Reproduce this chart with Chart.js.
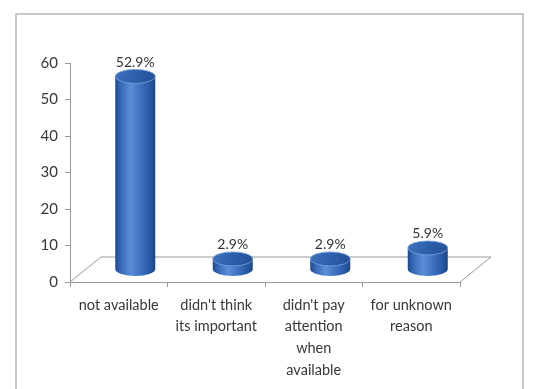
<!DOCTYPE html>
<html>
<head>
<meta charset="utf-8">
<script src="https://cdn.jsdelivr.net/npm/chart.js@4/dist/chart.umd.min.js"></script>
<style>
html,body{margin:0;padding:0;background:#fff;}
#wrap{width:552px;height:389px;position:relative;}
</style>
</head>
<body>
<div id="wrap"><canvas id="c" width="552" height="389"></canvas></div>
<script>
const categories = [
  ["not available"],
  ["didn't think", "its important"],
  ["didn't pay", "attention", "when", "available"],
  ["for unknown", "reason"]
];
const values = [52.9, 2.9, 2.9, 5.9];
const valueLabels = ["52.9%", "2.9%", "2.9%", "5.9%"];
const yTicks = [0, 10, 20, 30, 40, 50, 60];

const FONT = "Lato, 'Open Sans', sans-serif";
const DEPTH_X = 31, DEPTH_Y = -25;

const framePlugin = {
  id: 'frame',
  beforeDraw(chart) {
    const ctx = chart.ctx;
    ctx.save();
    ctx.fillStyle = '#fff';
    ctx.fillRect(0, 0, chart.width, chart.height);
    ctx.strokeStyle = '#c8c8c8';
    ctx.lineWidth = 2;
    ctx.strokeRect(16, 14, 507, 420);
    ctx.restore();
  }
};

const floorPlugin = {
  id: 'floor',
  beforeDatasetsDraw(chart) {
    const ctx = chart.ctx, a = chart.chartArea;
    const y0 = chart.scales.y.getPixelForValue(0);
    ctx.save();
    ctx.strokeStyle = '#9a9a9a';
    ctx.lineWidth = 1;
    ctx.beginPath();
    ctx.moveTo(a.left, y0);
    ctx.lineTo(a.left + DEPTH_X, y0 + DEPTH_Y);
    ctx.lineTo(a.right + DEPTH_X, y0 + DEPTH_Y);
    ctx.lineTo(a.right, y0);
    ctx.stroke();
    ctx.restore();
  }
};

const cylPlugin = {
  id: 'cyl',
  afterDatasetsDraw(chart) {
    const ctx = chart.ctx;
    const meta = chart.getDatasetMeta(0);
    const dx = DEPTH_X / 2 + 1, dy = DEPTH_Y / 2;
    meta.data.forEach((bar, i) => {
      const cx = bar.x + dx;
      const w = 40, rx = w / 2, ry = 7;
      const top = bar.y + dy, bot = bar.base + dy;
      const g = ctx.createLinearGradient(cx - rx, 0, cx + rx, 0);
      g.addColorStop(0, '#1d4a8f');
      g.addColorStop(0.12, '#3566b4');
      g.addColorStop(0.38, '#5a8fd8');
      g.addColorStop(0.62, '#3f73c2');
      g.addColorStop(0.9, '#23549e');
      g.addColorStop(1, '#1a447f');
      ctx.save();
      ctx.fillStyle = g;
      ctx.beginPath();
      ctx.moveTo(cx - rx, top);
      ctx.lineTo(cx - rx, bot);
      ctx.ellipse(cx, bot, rx, ry, 0, Math.PI, 0, true);
      ctx.lineTo(cx + rx, top);
      ctx.closePath();
      ctx.fill();
      const tg = ctx.createLinearGradient(cx - rx, top - ry, cx + rx, top + ry);
      tg.addColorStop(0, '#3f73c0');
      tg.addColorStop(0.5, '#2c5fab');
      tg.addColorStop(1, '#234f95');
      ctx.fillStyle = tg;
      ctx.beginPath();
      ctx.ellipse(cx, top, rx, ry, 0, 0, Math.PI * 2);
      ctx.fill();
      ctx.strokeStyle = 'rgba(120,160,220,0.8)';
      ctx.lineWidth = 1;
      ctx.stroke();
      ctx.fillStyle = '#333';
      ctx.font = '14px ' + FONT;
      ctx.textAlign = 'center';
      ctx.textBaseline = 'middle';
      ctx.fillText(valueLabels[i], cx, top - 14);
      ctx.restore();
    });
  }
};

new Chart(document.getElementById('c'), {
  type: 'bar',
  data: {
    labels: categories,
    datasets: [{
      data: values,
      backgroundColor: 'rgba(0,0,0,0)',
      borderWidth: 0
    }]
  },
  options: {
    responsive: false,
    animation: false,
    events: [],
    layout: { padding: { left: 15, top: 63, right: 92, bottom: 7 } },
    plugins: { legend: { display: false }, tooltip: { enabled: false } },
    scales: {
      x: {
        grid: { display: true, drawOnChartArea: false, color: '#9a9a9a', tickLength: 5, offset: true },
        border: { color: '#9a9a9a' },
        ticks: { color: '#383838', font: { family: FONT, size: 14.5, lineHeight: 1.5 }, padding: 7, maxRotation: 0, autoSkip: false },
        afterFit(s) { s.height = 100; }
      },
      y: {
        min: 0, max: 60,
        afterBuildTicks(s) { s.ticks = yTicks.map(v => ({ value: v })); },
        grid: { display: true, drawOnChartArea: false, color: '#9a9a9a', tickLength: 5 },
        border: { color: '#9a9a9a' },
        ticks: { color: '#383838', font: { family: FONT, size: 15 }, padding: 7 },
        afterFit(s) { s.width = 55; }
      }
    }
  },
  plugins: [framePlugin, floorPlugin, cylPlugin]
});
</script>
</body>
</html>
